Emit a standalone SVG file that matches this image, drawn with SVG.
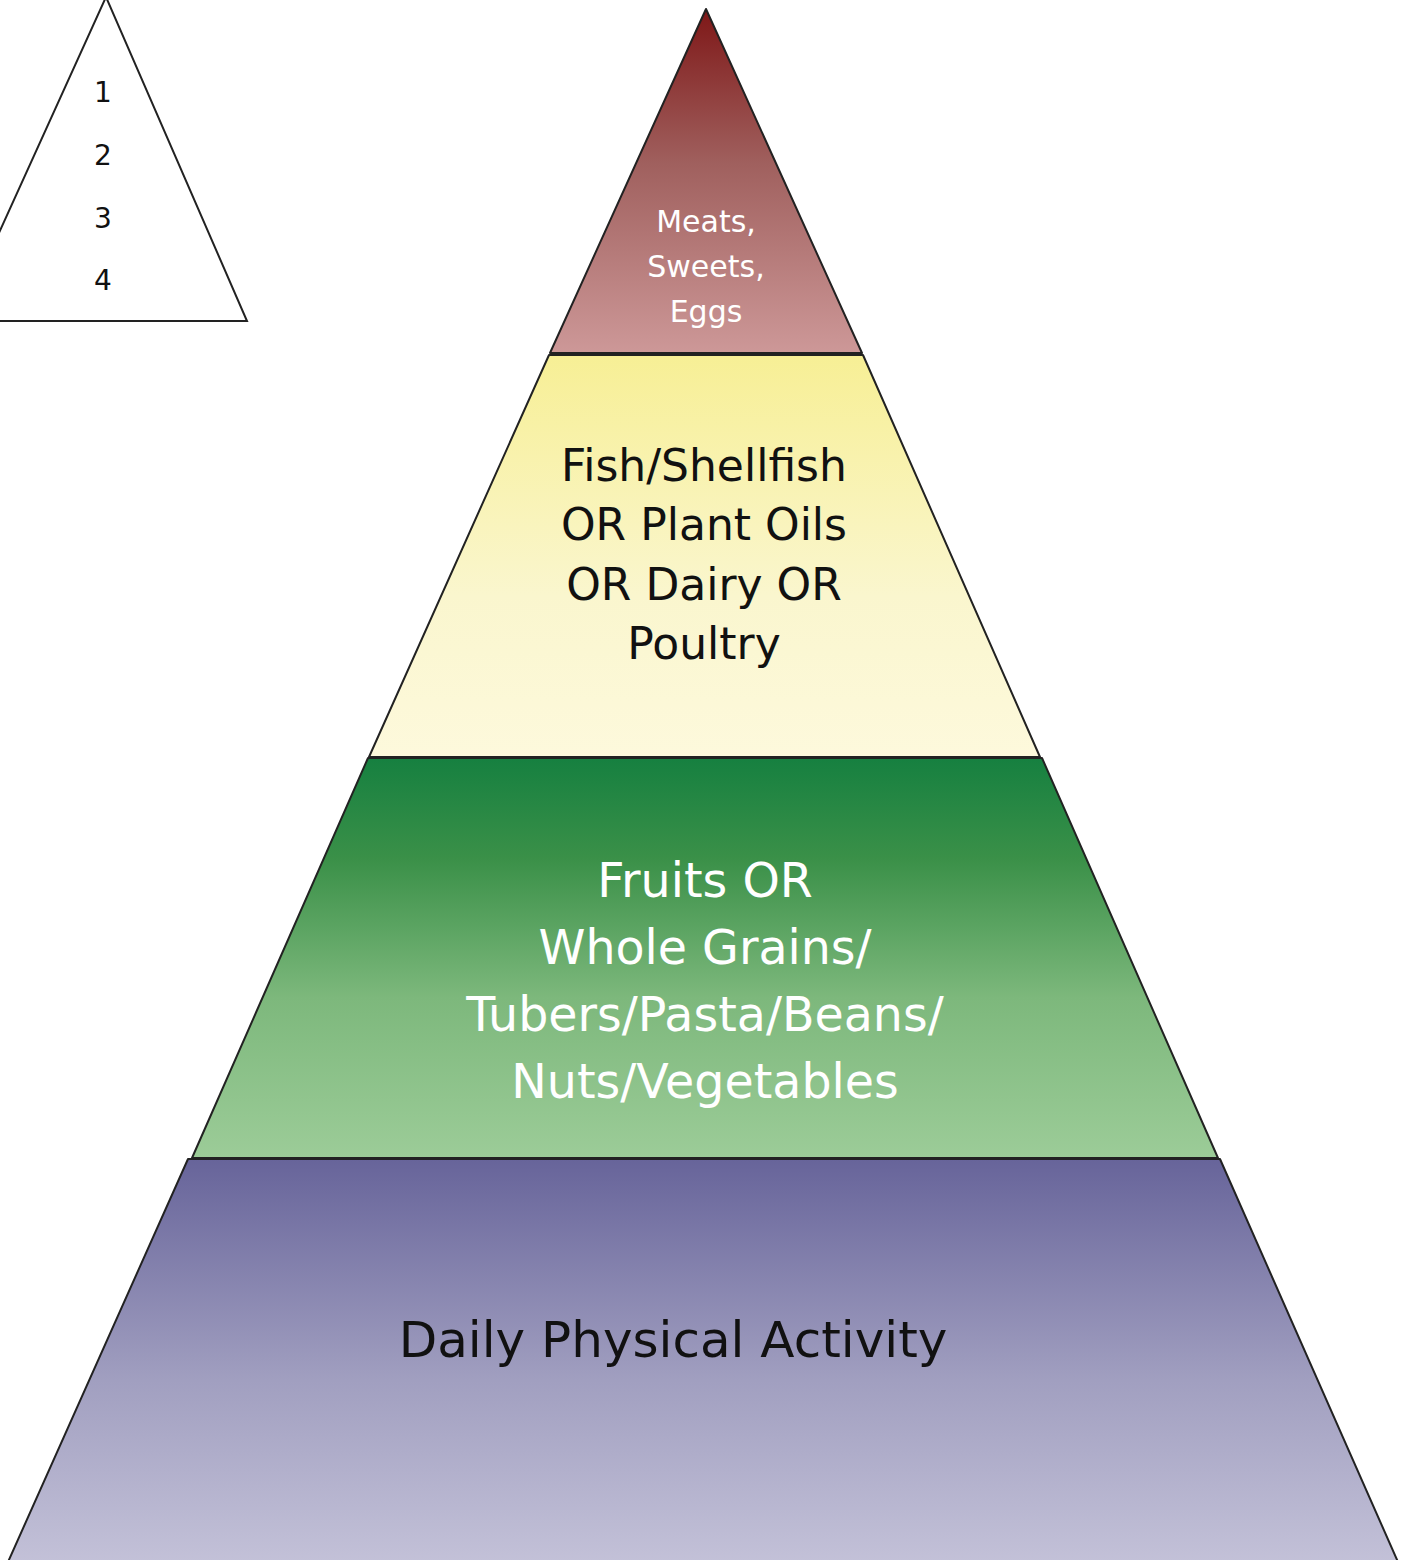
<svg xmlns="http://www.w3.org/2000/svg" width="1406" height="1560" viewBox="0 0 1406 1560">
<defs>
<linearGradient id="gRed" x1="0" y1="0" x2="0" y2="1"><stop offset="0" stop-color="#7e1717"/><stop offset="0.45" stop-color="#a0605e"/><stop offset="1" stop-color="#cd9898"/></linearGradient>
<linearGradient id="gYel" x1="0" y1="0" x2="0" y2="1"><stop offset="0" stop-color="#f7ef95"/><stop offset="0.6" stop-color="#faf6ce"/><stop offset="1" stop-color="#fdf9dc"/></linearGradient>
<linearGradient id="gGrn" x1="0" y1="0" x2="0" y2="1"><stop offset="0" stop-color="#168040"/><stop offset="0.25" stop-color="#3a9048"/><stop offset="0.6" stop-color="#7db87c"/><stop offset="1" stop-color="#9ccc98"/></linearGradient>
<linearGradient id="gPur" x1="0" y1="0" x2="0" y2="1"><stop offset="0" stop-color="#67649a"/><stop offset="0.55" stop-color="#a19fc0"/><stop offset="1" stop-color="#c3c1d8"/></linearGradient>
</defs>
<style>
.layer{stroke:#222;stroke-width:2;stroke-linejoin:round}
.t{font-family:"Comic Sans MS","DejaVu Sans",sans-serif;text-anchor:middle}
.w{fill:#ffffff}
.k{fill:#111111}
</style>
<rect width="1406" height="1560" fill="#ffffff"/>
<g id="legend">
<polygon points="106,-3 -41,321 247,321" fill="#ffffff" stroke="#222" stroke-width="2"/>
<text class="t k" x="103" y="102" font-size="28">1</text>
<text class="t k" x="103" y="165" font-size="28">2</text>
<text class="t k" x="103" y="228" font-size="28">3</text>
<text class="t k" x="103" y="290" font-size="28">4</text>
</g>
<g id="layer1">
<polygon class="layer" points="706,9 862,353 550,353" fill="url(#gRed)"/>
<text class="t w" font-size="30"><tspan x="706" y="232">Meats,</tspan><tspan x="706" y="277">Sweets,</tspan><tspan x="706" y="322">Eggs</tspan></text>
</g>
<g id="layer2">
<polygon class="layer" points="549,355 863,355 1040,757 369,757" fill="url(#gYel)"/>
<text class="t k" font-size="44"><tspan x="704" y="481">Fish/Shellfish</tspan><tspan x="704" y="540">OR Plant Oils</tspan><tspan x="704" y="600">OR Dairy OR</tspan><tspan x="704" y="659">Poultry</tspan></text>
</g>
<g id="layer3">
<polygon class="layer" points="368,758 1042,758 1218,1158 192,1158" fill="url(#gGrn)"/>
<text class="t w" font-size="47.5"><tspan x="705" y="897">Fruits OR</tspan><tspan x="705" y="964">Whole Grains/</tspan><tspan x="705" y="1031">Tubers/Pasta/Beans/</tspan><tspan x="705" y="1098">Nuts/Vegetables</tspan></text>
</g>
<g id="layer4">
<polygon class="layer" points="188,1159 1220,1159 1398,1562 8,1562" fill="url(#gPur)"/>
<text class="t k" x="673" y="1357" font-size="50">Daily Physical Activity</text>
</g>
<g id="connectors"></g>
</svg>
